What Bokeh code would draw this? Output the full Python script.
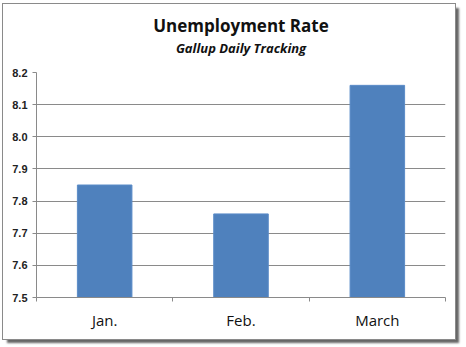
from bokeh.plotting import figure
from bokeh.models import FixedTicker, Title, Range1d, NumeralTickFormatter
from bokeh.embed import file_html
from bokeh.resources import INLINE

months = ["Jan.", "Feb.", "March"]
rates = [7.85, 7.76, 8.16]
y_ticks = [7.5, 7.6, 7.7, 7.8, 7.9, 8.0, 8.1, 8.2]

xs = [i + 0.5 for i in range(len(months))]

p = figure(width=452, height=335, output_backend="svg", toolbar_location=None,
           x_range=Range1d(0, len(months)), y_range=Range1d(y_ticks[0], y_ticks[-1]),
           min_border_left=33, min_border_right=10, min_border_top=10, min_border_bottom=42)
p.margin = (4, 0, 0, 3)
p.styles = {"outline": "1px solid #8a8a8a", "box-shadow": "4px 4px 2px #666"}
p.outline_line_color = None
p.background_fill_color = "white"
p.border_fill_color = "white"

p.vbar(x=xs, top=rates, bottom=y_ticks[0], width=0.4,
       fill_color="#4F81BD", line_color="#5B8CC8", line_width=1)

# titles (bottom to top)
gap = Title(text=" ", text_font_size="12px", standoff=0)
sub = Title(text="Gallup Daily Tracking", align="center", text_font="Open Sans",
            text_font_size="13px", text_font_style="bold italic", text_color="#111111",
            standoff=0)
main = Title(text="Unemployment Rate", align="center", text_font="Open Sans",
             text_font_size="17px", text_font_style="bold", text_color="#111111",
             standoff=0)
spacer = Title(text=" ", text_font_size="4px", standoff=0)
p.add_layout(gap, "above")
p.add_layout(sub, "above")
p.add_layout(main, "above")
p.add_layout(spacer, "above")

# y axis
p.yaxis.ticker = FixedTicker(ticks=y_ticks)
p.yaxis.formatter = NumeralTickFormatter(format="0.0")
p.yaxis.major_label_text_font = "Liberation Sans"
p.yaxis.major_label_text_font_style = "bold"
p.yaxis.major_label_text_font_size = "11px"
p.yaxis.major_label_text_color = "#222222"
p.yaxis.axis_line_color = "#8a8a8a"
p.yaxis.major_tick_line_color = "#8a8a8a"
p.yaxis.major_tick_out = 4
p.yaxis.major_tick_in = 0
p.yaxis.minor_tick_line_color = None
p.yaxis.major_label_standoff = 5

# x axis
p.xaxis.ticker = FixedTicker(ticks=xs, minor_ticks=list(range(len(months) + 1)))
p.xaxis.major_label_overrides = {x: m for x, m in zip(xs, months)}
p.xaxis.major_label_text_font = "Open Sans"
p.xaxis.major_label_text_font_size = "15px"
p.xaxis.major_label_text_color = "#111111"
p.xaxis.major_tick_line_color = None
p.xaxis.minor_tick_line_color = "#8a8a8a"
p.xaxis.minor_tick_out = 4
p.xaxis.minor_tick_in = 0
p.xaxis.axis_line_color = "#8a8a8a"
p.xaxis.major_label_standoff = 6

p.xgrid.grid_line_color = None
p.ygrid.ticker = FixedTicker(ticks=y_ticks)
p.ygrid.grid_line_color = "#8a8a8a"

open("out.html", "w").write(file_html(p, INLINE))
